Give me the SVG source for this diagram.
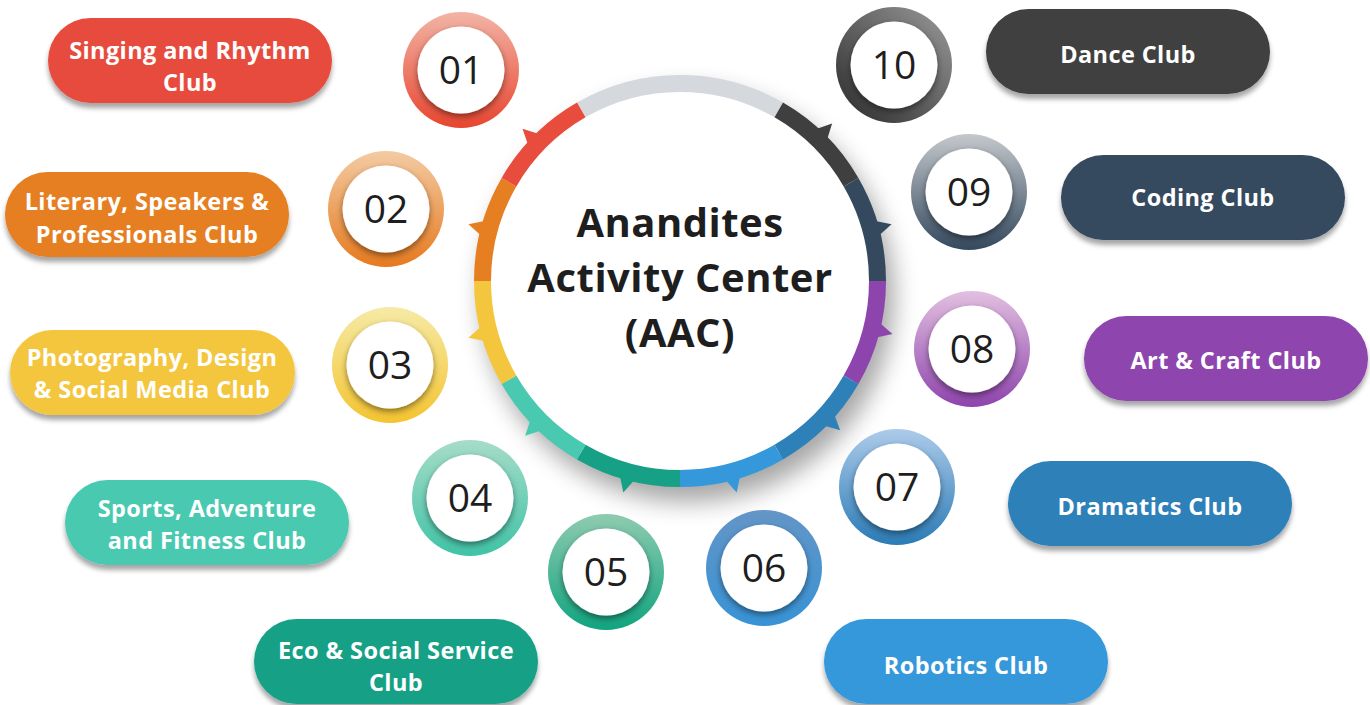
<svg xmlns="http://www.w3.org/2000/svg" width="1370" height="705" viewBox="0 0 1370 705">
<defs>
  <filter id="bigShadow" x="-30%" y="-30%" width="160%" height="160%">
    <feGaussianBlur stdDeviation="12"/>
  </filter>
  <filter id="pillShadow" x="-10%" y="-20%" width="120%" height="150%">
    <feDropShadow dx="0" dy="5" stdDeviation="2.5" flood-color="#000" flood-opacity="0.35"/>
  </filter>
  <filter id="innerShadow" x="-30%" y="-30%" width="160%" height="160%">
    <feDropShadow dx="0" dy="3" stdDeviation="3" flood-color="#000" flood-opacity="0.45"/>
  </filter>
  <linearGradient id="g1" x1="0" y1="0" x2="0" y2="1"><stop offset="0" stop-color="#f2b4a5"/><stop offset="1" stop-color="#e8452f"/></linearGradient>
  <linearGradient id="g2" x1="0" y1="0" x2="0" y2="1"><stop offset="0" stop-color="#f3cba3"/><stop offset="1" stop-color="#e67a1e"/></linearGradient>
  <linearGradient id="g3" x1="0" y1="0" x2="0" y2="1"><stop offset="0" stop-color="#f6eaa6"/><stop offset="1" stop-color="#f4c430"/></linearGradient>
  <linearGradient id="g4" x1="0" y1="0" x2="0" y2="1"><stop offset="0" stop-color="#a6dcc8"/><stop offset="1" stop-color="#40c3a6"/></linearGradient>
  <linearGradient id="g5" x1="0" y1="0" x2="0" y2="1"><stop offset="0" stop-color="#8fcbb0"/><stop offset="1" stop-color="#10a47f"/></linearGradient>
  <linearGradient id="g6" x1="0" y1="0" x2="0" y2="1"><stop offset="0" stop-color="#6495c6"/><stop offset="1" stop-color="#3793d6"/></linearGradient>
  <linearGradient id="g7" x1="0" y1="0" x2="0" y2="1"><stop offset="0" stop-color="#adcbea"/><stop offset="1" stop-color="#2a7bb6"/></linearGradient>
  <linearGradient id="g8" x1="0" y1="0" x2="0" y2="1"><stop offset="0" stop-color="#e2c0e0"/><stop offset="1" stop-color="#8e44ad"/></linearGradient>
  <linearGradient id="g9" x1="0" y1="0" x2="0" y2="1"><stop offset="0" stop-color="#c4c8cc"/><stop offset="1" stop-color="#34495e"/></linearGradient>
  <linearGradient id="g10" x1="1" y1="0" x2="0" y2="1"><stop offset="0" stop-color="#9a9a9a"/><stop offset="1" stop-color="#2a2a2a"/></linearGradient>
  <path id="tooth" d="M-8.5,-202 L0,-219 L8.5,-202 Z"/>
</defs>
<style>
  .pill { filter: url(#pillShadow); }
  .ptxt { font-family: "Open Sans", "Liberation Sans", sans-serif; font-weight: 700; font-size: 23.5px; letter-spacing: 0.4px; fill: #ffffff; text-anchor: middle; }
  .num { font-family: "Open Sans", "Liberation Sans", sans-serif; font-weight: 500; font-size: 39px; fill: #1e1e1e; text-anchor: middle; }
  .ctxt { font-family: "Open Sans", "Liberation Sans", sans-serif; font-weight: 700; font-size: 40px; letter-spacing: 0.5px; fill: #1e1e1e; text-anchor: middle; }
  .seg { fill: none; stroke-width: 17; }
  .inner { fill: #ffffff; filter: url(#innerShadow); }
</style>
<rect width="1370" height="705" fill="#ffffff"/>

<!-- central hub -->
<g id="hub">
  <circle cx="688" cy="296" r="206" fill="#000" opacity="0.35" filter="url(#bigShadow)"/>
  <circle cx="680" cy="281" r="200" fill="#ffffff"/>
  <g id="connectors">
    <path class="seg" stroke="#d5d8dc" d="M581.25,109.96 A197.5,197.5 0 0 1 778.75,109.96"/>
    <path class="seg" stroke="#3f3f3f" d="M778.75,109.96 A197.5,197.5 0 0 1 851.04,182.25"/>
    <path class="seg" stroke="#34495e" d="M851.04,182.25 A197.5,197.5 0 0 1 877.5,281"/>
    <path class="seg" stroke="#8e44ad" d="M877.5,281 A197.5,197.5 0 0 1 851.04,379.75"/>
    <path class="seg" stroke="#2e80b8" d="M851.04,379.75 A197.5,197.5 0 0 1 778.75,452.04"/>
    <path class="seg" stroke="#3498db" d="M778.75,452.04 A197.5,197.5 0 0 1 680,478.5"/>
    <path class="seg" stroke="#16a085" d="M680,478.5 A197.5,197.5 0 0 1 581.25,452.04"/>
    <path class="seg" stroke="#48c9b0" d="M581.25,452.04 A197.5,197.5 0 0 1 508.96,379.75"/>
    <path class="seg" stroke="#f4c63d" d="M508.96,379.75 A197.5,197.5 0 0 1 482.5,281"/>
    <path class="seg" stroke="#e67e22" d="M482.5,281 A197.5,197.5 0 0 1 508.96,182.25"/>
    <path class="seg" stroke="#e74c3c" d="M508.96,182.25 A197.5,197.5 0 0 1 581.25,109.96"/>
    <use href="#tooth" fill="#3f3f3f" transform="translate(680,281) rotate(44)"/>
    <use href="#tooth" fill="#34495e" transform="translate(680,281) rotate(75)"/>
    <use href="#tooth" fill="#8e44ad" transform="translate(680,281) rotate(104)"/>
    <use href="#tooth" fill="#2e80b8" transform="translate(680,281) rotate(133)"/>
    <use href="#tooth" fill="#3498db" transform="translate(680,281) rotate(165)"/>
    <use href="#tooth" fill="#16a085" transform="translate(680,281) rotate(195)"/>
    <use href="#tooth" fill="#48c9b0" transform="translate(680,281) rotate(-135)"/>
    <use href="#tooth" fill="#f4c63d" transform="translate(680,281) rotate(-105)"/>
    <use href="#tooth" fill="#e67e22" transform="translate(680,281) rotate(-75)"/>
    <use href="#tooth" fill="#e74c3c" transform="translate(680,281) rotate(-46)"/>
  </g>
  <text class="ctxt" x="680" y="237">Anandites</text>
  <text class="ctxt" x="680" y="292">Activity Center</text>
  <text class="ctxt" x="680" y="347">(AAC)</text>
</g>

<!-- number badges -->
<g id="n01"><circle cx="461" cy="70" r="58" fill="url(#g1)"/><circle class="inner" cx="461" cy="70" r="43.5"/><text class="num" x="461" y="84">01</text></g>
<g id="n02"><circle cx="386" cy="209" r="58" fill="url(#g2)"/><circle class="inner" cx="386" cy="209" r="43.5"/><text class="num" x="386" y="223">02</text></g>
<g id="n03"><circle cx="390" cy="365" r="58" fill="url(#g3)"/><circle class="inner" cx="390" cy="365" r="43.5"/><text class="num" x="390" y="379">03</text></g>
<g id="n04"><circle cx="470" cy="498" r="58" fill="url(#g4)"/><circle class="inner" cx="470" cy="498" r="43.5"/><text class="num" x="470" y="512">04</text></g>
<g id="n05"><circle cx="606" cy="572" r="58" fill="url(#g5)"/><circle class="inner" cx="606" cy="572" r="43.5"/><text class="num" x="606" y="586">05</text></g>
<g id="n06"><circle cx="764" cy="568" r="58" fill="url(#g6)"/><circle class="inner" cx="764" cy="568" r="43.5"/><text class="num" x="764" y="582">06</text></g>
<g id="n07"><circle cx="897" cy="487" r="58" fill="url(#g7)"/><circle class="inner" cx="897" cy="487" r="43.5"/><text class="num" x="897" y="501">07</text></g>
<g id="n08"><circle cx="972" cy="349" r="58" fill="url(#g8)"/><circle class="inner" cx="972" cy="349" r="43.5"/><text class="num" x="972" y="363">08</text></g>
<g id="n09"><circle cx="969" cy="192" r="58" fill="url(#g9)"/><circle class="inner" cx="969" cy="192" r="43.5"/><text class="num" x="969" y="206">09</text></g>
<g id="n10"><circle cx="894" cy="65" r="58" fill="url(#g10)"/><circle class="inner" cx="894" cy="65" r="43.5"/><text class="num" x="894" y="79">10</text></g>

<!-- club pills -->
<g id="club01"><rect class="pill" x="48" y="18" width="284" height="85" rx="42.5" fill="#e74c3c"/><text class="ptxt" x="190" y="59">Singing and Rhythm</text><text class="ptxt" x="190" y="91">Club</text></g>
<g id="club02"><rect class="pill" x="5" y="172" width="284" height="85" rx="42.5" fill="#e67e22"/><text class="ptxt" x="147" y="210">Literary, Speakers &amp;</text><text class="ptxt" x="147" y="243">Professionals Club</text></g>
<g id="club03"><rect class="pill" x="10" y="330" width="285" height="85" rx="42.5" fill="#f4c63d"/><text class="ptxt" x="152" y="366">Photography, Design</text><text class="ptxt" x="152" y="398">&amp; Social Media Club</text></g>
<g id="club04"><rect class="pill" x="65" y="480" width="284" height="85" rx="42.5" fill="#48c9b0"/><text class="ptxt" x="207" y="517">Sports, Adventure</text><text class="ptxt" x="207" y="549">and Fitness Club</text></g>
<g id="club05"><rect class="pill" x="254" y="619" width="284" height="85" rx="42.5" fill="#16a085"/><text class="ptxt" x="396" y="659">Eco &amp; Social Service</text><text class="ptxt" x="396" y="691">Club</text></g>
<g id="club06"><rect class="pill" x="824" y="619" width="284" height="85" rx="42.5" fill="#3498db"/><text class="ptxt" x="966" y="674">Robotics Club</text></g>
<g id="club07"><rect class="pill" x="1008" y="461" width="284" height="85" rx="42.5" fill="#2e80b8"/><text class="ptxt" x="1150" y="515">Dramatics Club</text></g>
<g id="club08"><rect class="pill" x="1084" y="316" width="284" height="85" rx="42.5" fill="#8e44ad"/><text class="ptxt" x="1226" y="369">Art &amp; Craft Club</text></g>
<g id="club09"><rect class="pill" x="1061" y="155" width="284" height="85" rx="42.5" fill="#34495e"/><text class="ptxt" x="1203" y="206">Coding Club</text></g>
<g id="club10"><rect class="pill" x="986" y="9" width="284" height="85" rx="42.5" fill="#3f3f3f"/><text class="ptxt" x="1128" y="63">Dance Club</text></g>
</svg>
